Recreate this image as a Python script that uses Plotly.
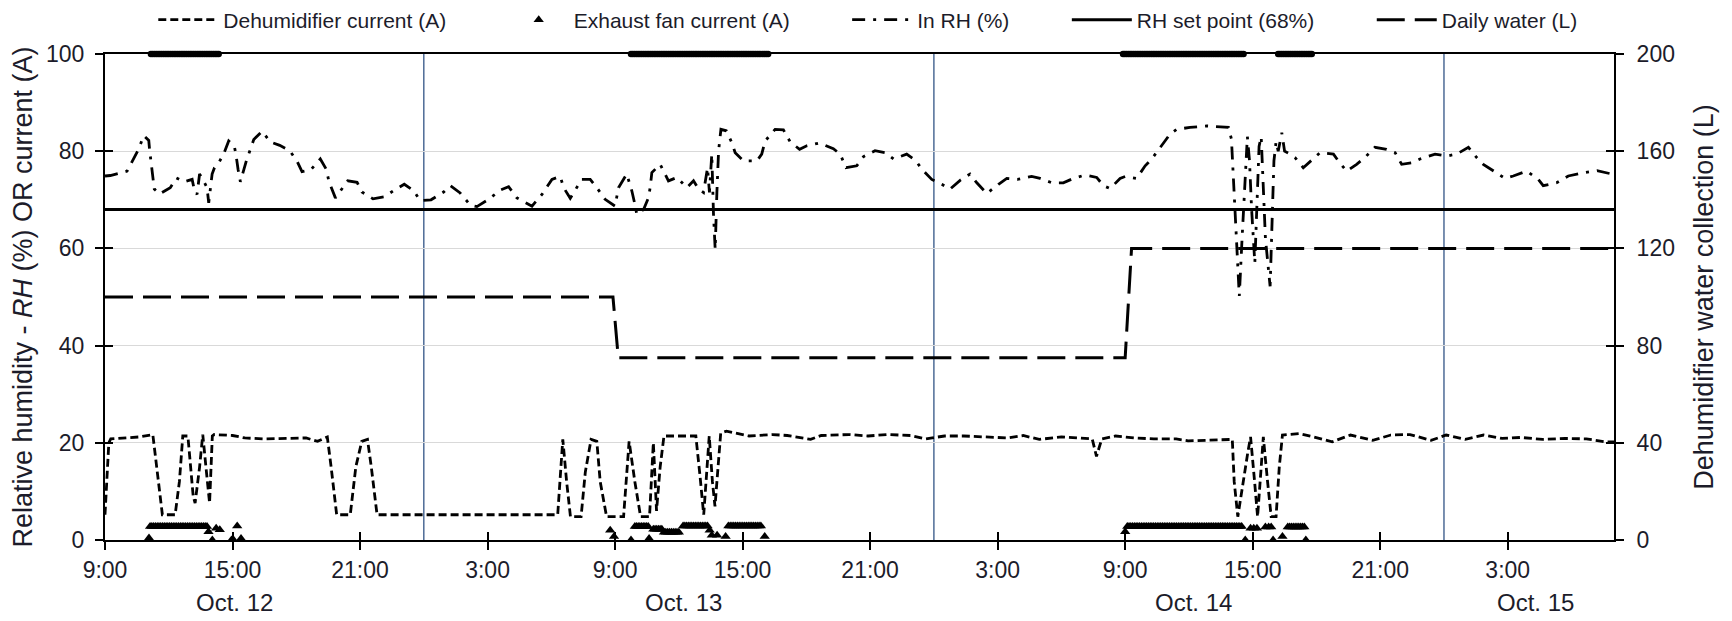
import numpy as np
import pandas as pd
import plotly.graph_objects as go

# ---------------- data (hours after Oct 12, 9:00) ----------------
START = "2013-10-12 09:00"
END_H = 71

rh_h = [0.0, 0.25, 1.04, 1.35, 1.58, 1.82, 2.06, 2.10, 2.17, 2.26, 2.32, 2.56, 3.07, 3.36, 3.73, 4.10, 4.20,
        4.33, 4.45, 4.64, 4.80, 4.88, 5.04, 5.15, 5.35, 5.58, 5.82, 6.08, 6.16, 6.26, 6.37, 6.65, 6.92, 7.00,
        7.39, 7.78, 8.22, 8.69, 9.03, 9.27, 9.69, 10.13, 10.41, 10.54, 10.84, 10.95, 11.42, 11.86, 12.09,
        12.61, 13.14, 13.58, 14.08, 14.52, 14.83, 15.34, 15.93, 16.25, 16.71, 17.19, 17.50, 18.05, 18.60,
        18.99, 19.38, 20.09, 20.56, 21.03, 21.42, 21.58, 21.89, 22.43, 22.83, 23.14, 23.53, 24.00, 24.16,
        24.55, 24.79, 24.95, 25.02, 25.34, 25.57, 25.65, 25.73, 26.12, 26.28, 26.51, 26.91, 27.38, 27.69,
        27.93, 28.16, 28.29, 28.35, 28.44, 28.55, 28.63, 28.71, 28.79, 28.87, 28.98, 29.23, 29.49, 29.65,
        30.04, 30.67, 30.90, 31.06, 31.53, 31.92, 32.24, 32.68, 33.02, 33.62, 34.27, 34.59, 34.87, 35.37,
        35.69, 36.23, 36.71, 37.10, 37.72, 38.16, 38.43, 38.90, 39.37, 39.76, 40.26, 40.70, 41.02, 41.49,
        42.04, 42.43, 42.93, 43.60, 44.00, 44.55, 45.09, 45.56, 46.11, 46.66, 46.98, 47.29, 47.76, 48.00,
        48.54, 48.94, 49.25, 49.64, 50.11, 50.43, 51.05, 51.84, 52.23, 52.86, 53.00, 53.15, 53.30, 53.37,
        53.50, 53.65, 53.75, 53.85, 53.95, 54.10, 54.20, 54.30, 54.40, 54.50, 54.60, 54.82, 54.90, 55.00,
        55.10, 55.20, 55.37, 55.50, 55.76, 55.99, 56.38, 56.62, 57.17, 57.80, 58.03, 58.42, 58.89, 59.28,
        59.75, 60.30, 60.70, 61.01, 61.48, 61.87, 62.58, 63.13, 63.60, 64.15, 64.54, 64.85, 65.32, 65.87,
        66.26, 66.89, 67.44, 67.67, 68.30, 68.85, 69.50, 70.20, 71.00]
rh_v = [74.9, 75.0, 75.9, 78.4, 80.4, 83.2, 82.2, 80.2, 77.5, 74.5, 72.2, 71.2, 72.5, 74.5, 73.7, 74.2, 72.1,
        71.1, 75.3, 73.9, 72.5, 69.4, 75.3, 76.6, 77.6, 79.4, 82.1, 81.1, 79.4, 76.3, 73.7, 78.0, 81.1, 82.4,
        84.1, 81.9, 81.2, 80.1, 78.0, 75.8, 76.2, 78.4, 76.3, 73.7, 70.4, 71.1, 73.9, 73.6, 71.6,
        70.2, 70.6, 71.9, 73.2, 71.9, 69.8, 70.0, 71.6, 72.9, 71.4, 68.9, 68.6, 70.1, 72.0,
        72.7, 70.4, 68.7, 71.1, 74.2, 74.8, 72.5, 70.3, 74.2, 74.2, 72.5, 70.1, 68.7, 72.5,
        75.3, 71.8, 68.7, 67.0, 68.0, 70.4, 72.5, 75.6, 77.3, 75.9, 73.9, 74.6, 72.5, 73.9,
        72.2, 71.5, 74.9, 76.6, 71.5, 79.4, 67.0, 59.8, 71.5, 80.1, 84.5, 84.2, 81.8, 79.7,
        78.0, 78.0, 79.4, 82.1, 84.5, 84.4, 81.9, 80.4, 81.1, 81.7, 80.5, 79.4, 76.6, 77.0,
        78.9, 80.1, 79.7, 78.4, 79.4, 78.0, 76.3, 74.2, 73.2, 72.2, 74.1, 75.3, 73.5, 71.3,
        73.2, 74.4, 74.2, 74.8, 74.4, 73.5, 73.5, 74.4, 75.1, 74.6, 72.9, 72.3, 74.4, 74.8,
        74.4, 77.0, 78.4, 80.8, 83.5, 84.5, 84.9, 85.2, 85.1, 84.9, 82.5, 70.0, 58.0, 50.2,
        62.0, 75.0, 83.0, 78.0, 68.0, 57.0, 70.0, 81.0, 83.0, 72.0, 62.0, 52.2, 65.0, 78.0,
        82.0, 80.0, 83.8, 80.0, 79.4, 78.7, 76.6, 77.6, 79.7, 79.4, 78.0, 75.9, 77.3, 78.7,
        80.8, 80.4, 79.7, 77.3, 77.6, 78.4, 79.4, 79.0, 79.4, 80.8, 78.7, 77.3, 75.9, 74.4,
        74.9, 75.9, 74.2, 72.9, 73.5, 74.9, 75.5, 76.0, 75.2]

dh_h = [0.0, 0.18, 0.27, 0.9, 1.6, 2.25, 2.43, 2.70, 3.30, 3.50, 3.66, 3.90, 4.15, 4.24, 4.45, 4.60, 4.75,
        4.92, 5.05, 5.14, 6.0, 6.58, 7.48, 8.74, 9.46, 10.0, 10.46, 10.64, 10.9, 11.54, 11.8, 12.08, 12.35,
        12.53, 12.8, 21.3, 21.54, 21.72, 21.9, 22.4, 22.6, 22.87, 23.14, 23.3, 23.6, 24.4, 24.54, 24.66,
        24.93, 25.2, 25.62, 25.8, 25.95, 26.12, 26.3, 27.8, 28.0, 28.17, 28.43, 28.58, 28.7, 28.97, 29.24,
        29.6, 30.3, 31.4, 32.1, 33.2, 33.7, 35.0, 35.9, 36.8, 37.9, 38.6, 39.5, 40.4, 41.45, 42.5, 43.2,
        43.96, 45.0, 46.1, 46.45, 46.65, 46.9, 47.55, 48.45, 49.35, 50.4, 50.96, 53.04, 53.13, 53.3, 53.77,
        53.9, 54.09, 54.23, 54.4, 54.5, 54.7, 54.87, 55.1, 55.25, 55.4, 56.17, 56.87, 57.74, 58.6, 59.65,
        60.5, 61.4, 62.4, 63.1, 64.0, 64.87, 65.74, 66.6, 67.65, 68.7, 69.7, 70.6, 71.0]
dh_v = [5.2, 20.0, 20.8, 21.0, 21.2, 21.7, 15.0, 5.2, 5.2, 12.0, 21.4, 21.4, 9.0, 7.6, 15.0, 21.7, 15.0,
        7.6, 21.4, 21.7, 21.5, 21.0, 20.8, 21.0, 21.0, 20.3, 21.2, 15.0, 5.2, 5.2, 15.0, 20.3, 20.7,
        15.0, 5.2, 5.2, 20.7, 12.0, 4.8, 4.8, 14.0, 20.7, 20.3, 12.0, 4.8, 4.8, 14.0, 20.3,
        12.0, 4.8, 4.8, 20.0, 6.0, 15.0, 21.4, 21.4, 13.0, 5.2, 21.4, 12.0, 6.9, 22.0, 22.4,
        22.1, 21.4, 21.7, 21.5, 20.7, 21.5, 21.7, 21.4, 21.7, 21.5, 20.8, 21.4, 21.4, 21.2, 21.0, 21.5,
        20.7, 21.2, 21.0, 20.8, 17.2, 20.8, 21.4, 21.0, 20.8, 20.8, 20.4, 20.7, 12.0, 4.8, 18.0,
        21.2, 12.0, 4.8, 15.0, 21.2, 12.0, 4.8, 4.8, 15.0, 21.6, 21.9, 21.2, 20.2, 21.6, 20.5,
        21.6, 21.7, 20.5, 21.6, 20.7, 21.6, 20.9, 21.1, 20.7, 20.9, 20.8, 20.2, 20.2]

# exhaust fan: logged every 5 min; runs at a steady current plus isolated readings
fan_log_step_h = 1 / 12
fan_run_start = [2.12, 24.93, 25.80, 26.30, 27.20, 29.33, 48.10, 55.65]
fan_run_end = [4.80, 25.56, 26.20, 27.00, 28.35, 30.86, 53.48, 56.43]
fan_run_level = [2.8, 2.8, 2.2, 1.6, 2.9, 2.9, 2.8, 2.7]
fan_pt_h = [2.07, 4.87, 5.05, 5.23, 5.40, 5.95, 6.05, 6.22, 6.40, 23.77, 23.95, 24.75, 25.60, 28.45, 28.55,
            28.80, 29.20, 31.04, 48.00, 53.65, 53.90, 54.05, 54.20, 54.60, 54.75, 54.87, 54.96, 55.40, 56.50]
fan_pt_v = [0.4, 1.7, 0.0, 2.4, 2.1, 0.0, 0.0, 2.9, 0.3, 2.0, 0.7, 0.0, 0.3, 2.0, 1.0,
            1.0, 0.7, 0.7, 1.7, 0.0, 2.4, 2.4, 2.4, 2.7, 2.7, 2.7, 0.0, 0.7, 0.0]
# fan "on" status marks drawn along the top of the chart (value 100)
fan_on_start = [2.16, 24.75, 47.90, 55.20]
fan_on_end = [5.35, 31.20, 53.57, 56.78]
fan_on_level = 100

water_h = [0.0, 23.9, 24.15, 48.0, 48.3, 71.0]
water_v = [100, 100, 75, 75, 120, 120]

setpoint_h = [0.0, 71.0]
setpoint_v = [68, 68]

day_boundary_h = [15, 39, 63]
date_label_text = ["Oct. 12", "Oct. 13", "Oct. 14", "Oct. 15"]
date_label_h = [6.1, 27.2, 51.2, 67.3]

legend_names = ["Dehumidifier current (A)", "Exhaust fan current (A)", "In RH (%)",
                "RH set point (68%)", "Daily water (L)"]

# ---------------- helpers ----------------
t0 = pd.Timestamp(START)


def T(hours):
    return [t0 + pd.Timedelta(hours=float(x)) for x in hours]


def expand(starts, ends, levels):
    hh, vv = [], []
    for s, e, lv in zip(starts, ends, levels):
        k = int(round((e - s) / fan_log_step_h))
        for i in range(k + 1):
            hh.append(s + i * (e - s) / max(k, 1))
            vv.append(lv)
    return hh, vv


run_h, run_v = expand(fan_run_start, fan_run_end, fan_run_level)
fan_pairs = sorted(zip(run_h + fan_pt_h, run_v + fan_pt_v))
fan_h = [p[0] for p in fan_pairs]
fan_v = [p[1] for p in fan_pairs]
on_h, on_v = expand(fan_on_start, fan_on_end, [fan_on_level] * len(fan_on_start))

FONT = "Liberation Sans, Arial, sans-serif"
TXT = "#1c1c2a"
pad = "\u00a0" * 9

fig = go.Figure()
fig.add_trace(go.Scatter(x=T(dh_h), y=dh_v, mode="lines", name=legend_names[0] + pad,
                         line=dict(color="black", width=2.8, dash="8px,4px")))
fig.add_trace(go.Scatter(x=T(fan_h), y=fan_v, mode="markers", name=legend_names[1] + pad,
                         marker=dict(symbol="triangle-up", size=9, color="black")))
fig.add_trace(go.Scatter(x=T(rh_h), y=rh_v, mode="lines", name=legend_names[2] + pad,
                         line=dict(color="black", width=2.8, dash="13px,8px,3px,8px")))
fig.add_trace(go.Scatter(x=T(setpoint_h), y=setpoint_v, mode="lines", name=legend_names[3] + pad,
                         line=dict(color="black", width=3)))
fig.add_trace(go.Scatter(x=T(water_h), y=water_v, mode="lines", name=legend_names[4], yaxis="y2",
                         line=dict(color="black", width=3, dash="28px,10px")))
fig.add_trace(go.Scatter(x=T(on_h), y=on_v, mode="markers", showlegend=False, cliponaxis=False,
                         marker=dict(symbol="circle", size=6.5, color="black"), hoverinfo="skip"))
# invisible helpers carrying the inner half of the crossing tick marks
fig.add_trace(go.Scatter(x=T(rh_h[:1]), y=rh_v[:1], xaxis="x3", yaxis="y3", mode="markers",
                         marker=dict(opacity=0), showlegend=False, hoverinfo="skip"))
fig.add_trace(go.Scatter(x=T(rh_h[:1]), y=rh_v[:1], xaxis="x3", yaxis="y4", mode="markers",
                         marker=dict(opacity=0), showlegend=False, hoverinfo="skip"))

xr = [t0, t0 + pd.Timedelta(hours=END_H)]
tickcommon = dict(tickcolor="black", tickwidth=1.5, ticklen=8)

for bh in day_boundary_h:
    fig.add_shape(type="line", xref="x", yref="paper", x0=T([bh])[0], x1=T([bh])[0], y0=0, y1=1,
                  line=dict(color="#4d6b96", width=1.5), layer="below")

for txt, hh in zip(date_label_text, date_label_h):
    fig.add_annotation(x=T([hh])[0], y=-0.128, xref="x", yref="paper", text=txt, showarrow=False,
                       font=dict(size=24, color=TXT, family=FONT), xanchor="center", yanchor="middle")

fig.update_layout(
    width=1732, height=621,
    margin=dict(l=105, r=118, t=54, b=81, autoexpand=False),
    paper_bgcolor="white", plot_bgcolor="white",
    font=dict(family=FONT, color=TXT, size=22),
    showlegend=True,
    legend=dict(orientation="h", x=0.032, xanchor="left", y=1.07, yanchor="middle",
                font=dict(size=21, color=TXT, family=FONT), itemwidth=60,
                bgcolor="rgba(0,0,0,0)", traceorder="normal"),
    xaxis=dict(type="date", range=xr, tick0=t0, dtick=6 * 3600 * 1000, tickformat="%-H:%M",
               ticks="outside", showline=True, linecolor="black", linewidth=2, mirror=True,
               showgrid=False, zeroline=False, tickfont=dict(size=23, color=TXT), **tickcommon),
    xaxis3=dict(type="date", overlaying="x", matches="x", anchor="y", side="bottom", tick0=t0,
                dtick=6 * 3600 * 1000, ticks="inside", showticklabels=False, showline=False,
                showgrid=False, zeroline=False, **tickcommon),
    yaxis=dict(range=[0, 100], dtick=20, ticks="outside", showline=True, linecolor="black", linewidth=2,
               showgrid=True, gridcolor="#d9d9d9", gridwidth=1.2, zeroline=False,
               tickfont=dict(size=23, color=TXT), ticklabelstandoff=6,
               title=dict(text="Relative humidity - <i>RH</i> (%) OR current (A)",
                          font=dict(size=27, color=TXT), standoff=6), **tickcommon),
    yaxis2=dict(range=[0, 200], dtick=40, overlaying="y", side="right", anchor="x", ticks="outside",
                showline=True, linecolor="black", linewidth=2, showgrid=False, zeroline=False,
                tickfont=dict(size=23, color=TXT), ticklabelstandoff=8,
                title=dict(text="Dehumidifier water collection (L)", font=dict(size=27, color=TXT),
                           standoff=20), **tickcommon),
    yaxis3=dict(range=[0, 100], dtick=20, overlaying="y", matches="y", side="left", anchor="x3",
                ticks="inside", showticklabels=False, showline=False, showgrid=False, zeroline=False,
                **tickcommon),
    yaxis4=dict(range=[0, 200], dtick=40, overlaying="y", side="right", anchor="x3",
                ticks="inside", showticklabels=False, showline=False, showgrid=False, zeroline=False,
                **tickcommon),
)

fig.write_html("out.html")
